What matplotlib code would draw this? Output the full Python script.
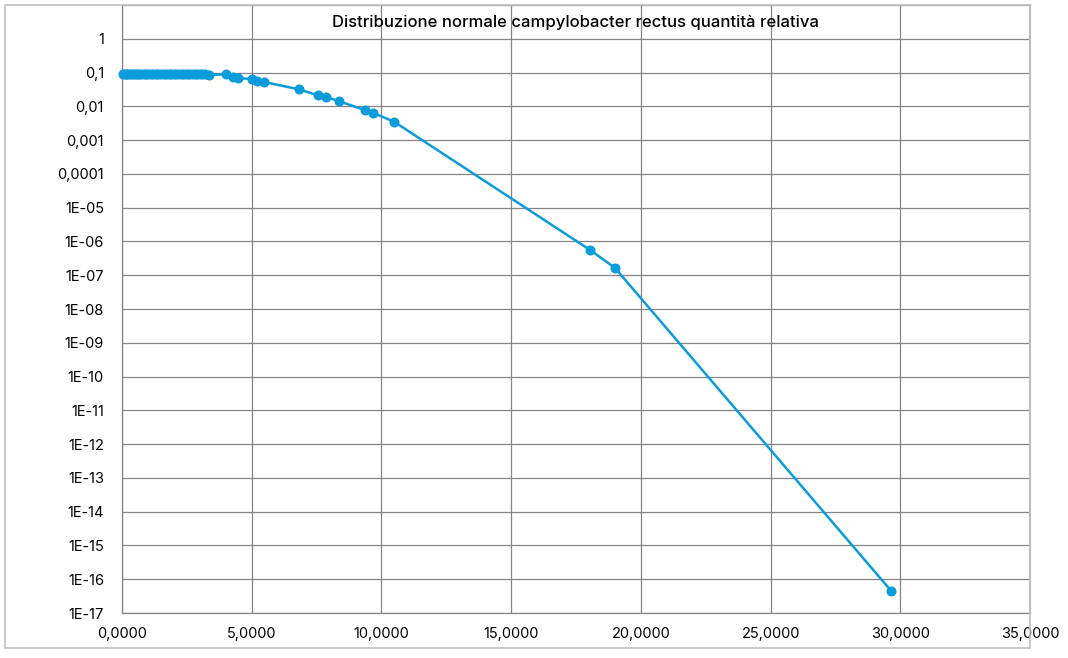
import matplotlib
matplotlib.use("Agg")
import matplotlib.pyplot as plt
from matplotlib.patches import Rectangle

title = "Distribuzione normale campylobacter rectus quantità relativa"

x_vals = [0.05, 0.10, 0.15, 0.20, 0.28, 0.35, 0.42, 0.50, 0.58, 0.66, 0.75, 0.83,
          0.92, 1.00, 1.10, 1.20, 1.30, 1.40, 1.50, 1.60, 1.70, 1.80, 1.90, 2.00,
          2.10, 2.20, 2.30, 2.40, 2.50, 2.60, 2.70, 2.80, 2.90, 3.00, 3.10, 3.20,
          3.35, 4.01, 4.27, 4.49, 5.00, 5.22, 5.49, 6.82, 7.56, 7.85, 8.35,
          9.38, 9.68, 10.49, 18.04, 19.00, 29.65]
y_vals = [0.090, 0.090, 0.090, 0.090, 0.090, 0.090, 0.090, 0.090, 0.090, 0.090, 0.090, 0.090,
          0.090, 0.090, 0.090, 0.090, 0.090, 0.090, 0.090, 0.090, 0.090, 0.090, 0.090, 0.090,
          0.090, 0.090, 0.090, 0.090, 0.090, 0.090, 0.090, 0.089, 0.089, 0.089, 0.088, 0.088,
          0.086, 0.088, 0.076, 0.068, 0.065, 0.058, 0.052, 0.032, 0.021, 0.019, 0.0143,
          0.0077, 0.0064, 0.0035, 5.6e-7, 1.65e-7, 4.5e-17]

x_ticks = [0, 5, 10, 15, 20, 25, 30, 35]
x_tick_labels = ["0,0000", "5,0000", "10,0000", "15,0000", "20,0000", "25,0000", "30,0000", "35,0000"]
y_ticks = [1, 0.1, 0.01, 0.001, 0.0001, 1e-5, 1e-6, 1e-7, 1e-8, 1e-9, 1e-10, 1e-11,
           1e-12, 1e-13, 1e-14, 1e-15, 1e-16, 1e-17]
y_tick_labels = ["1", "0,1", "0,01", "0,001", "0,0001", "1E-05", "1E-06", "1E-07", "1E-08",
                 "1E-09", "1E-10", "1E-11", "1E-12", "1E-13", "1E-14", "1E-15", "1E-16", "1E-17"]

plt.rcParams['font.family'] = ['Inter', 'DejaVu Sans']

W, H = 1068, 658
fig = plt.figure(figsize=(W / 100, H / 100), dpi=100)
fig.patch.set_facecolor('white')

# outer chart border
fig.patches.append(Rectangle((5 / W, (H - 648) / H), (1030 - 5) / W, (648 - 5) / H,
                             transform=fig.transFigure, fill=False,
                             edgecolor='#c0c0c0', linewidth=1.2, zorder=0))

ax = fig.add_axes([122 / W, (H - 613) / H, (1030 - 122) / W, (613 - 5) / H])
ax.set_yscale('log')
ax.set_xlim(0, 35)
ax.set_ylim(1e-17, 10)

ax.set_xticks(x_ticks)
ax.set_xticklabels(x_tick_labels, fontsize=10.5)
ax.set_yticks(y_ticks)
ax.set_yticklabels(y_tick_labels, fontsize=10.5)
ax.minorticks_off()
ax.tick_params(axis='both', length=0, colors='#000000')
ax.tick_params(axis='x', pad=10)
ax.tick_params(axis='y', pad=13)

ax.grid(True, which='major', color='#858585', linewidth=0.9)
ax.set_axisbelow(True)
for side in ['left', 'bottom', 'top']:
    ax.spines[side].set_color('#858585')
    ax.spines[side].set_linewidth(0.9)
ax.spines['right'].set_color('#bdbdbd')
ax.spines['right'].set_linewidth(1.5)

ax.plot(x_vals, y_vals, color='#0b9cdb', linewidth=1.8, marker='o',
        markersize=6.2, markerfacecolor='#0b9cdb', markeredgecolor='#0b9cdb', zorder=3,
        clip_on=False)

ax.text(0.5, 1 - 17 / 608, title, transform=ax.transAxes, ha='center', va='center',
        fontsize=12, fontweight='medium')

fig.savefig('out.png', dpi=100)
